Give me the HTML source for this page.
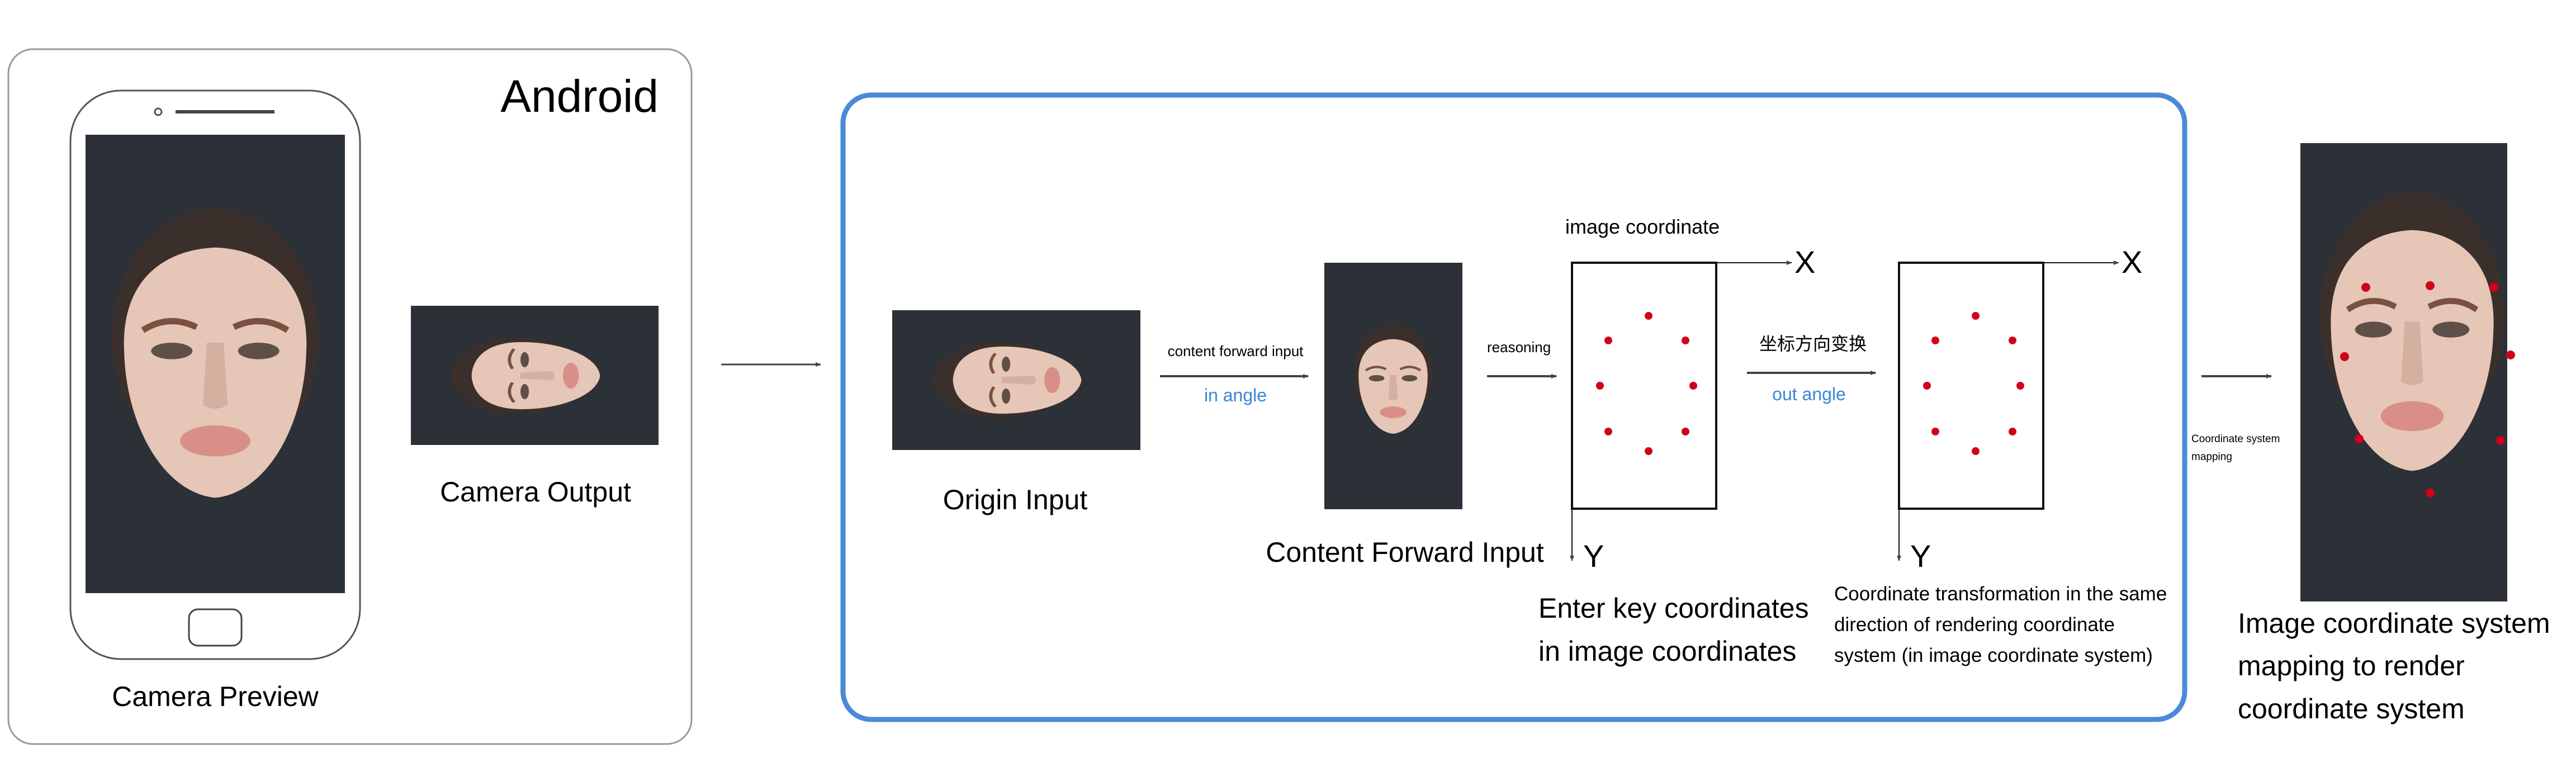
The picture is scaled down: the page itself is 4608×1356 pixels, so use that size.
<!DOCTYPE html>
<html><head><meta charset="utf-8"><style>
html,body{margin:0;padding:0;background:#fff;width:4608px;height:1356px;overflow:hidden}
text{font-family:"Liberation Sans","Noto Sans CJK SC",sans-serif;fill:#000}
</style></head><body>
<svg width="4608" height="1356" viewBox="0 0 4608 1356" xmlns="http://www.w3.org/2000/svg">
<defs>
<marker id="ar" markerWidth="10" markerHeight="8" refX="9" refY="4" orient="auto" markerUnits="userSpaceOnUse">
<path d="M0,0 L10,4 L0,8 Z" fill="#444"/></marker>
<g id="face">
<ellipse cx="0" cy="-25" rx="100" ry="125" fill="#3b2f2c"/>
<path d="M-88,-10 C-92,-80 -50,-110 0,-112 C50,-110 92,-80 88,-10 C86,60 50,125 0,130 C-50,125 -86,60 -88,-10 Z" fill="#e6c6b6"/>
<path d="M-70,-32 Q-45,-48 -18,-35" stroke="#7a5040" stroke-width="6" fill="none"/>
<path d="M70,-32 Q45,-48 18,-35" stroke="#7a5040" stroke-width="6" fill="none"/>
<ellipse cx="-42" cy="-12" rx="20" ry="8" fill="#5e5048"/>
<ellipse cx="42" cy="-12" rx="20" ry="8" fill="#5e5048"/>
<path d="M-8,-20 L-12,40 Q0,48 12,40 L8,-20" fill="#d4b0a0"/>
<ellipse cx="0" cy="75" rx="34" ry="15" fill="#d98f88"/>
</g>
</defs>

<rect x="15" y="88" width="1222" height="1243" rx="44" fill="none" stroke="#999" stroke-width="3"/>
<text x="1178" y="200" font-size="82" text-anchor="end">Android</text>
<rect x="126" y="162" width="518" height="1017" rx="90" fill="#fff" stroke="#555" stroke-width="3"/>
<circle cx="283" cy="200" r="6" fill="none" stroke="#555" stroke-width="3"/>
<line x1="314" y1="200" x2="491" y2="200" stroke="#444" stroke-width="6"/>
<rect x="338" y="1090" width="94" height="65" rx="16" fill="none" stroke="#444" stroke-width="3"/>
<rect x="153" y="241" width="464" height="820" fill="#2c3037"/>
<use href="#face" transform="translate(385,650) scale(1.85)"/>
<text x="385" y="1263" font-size="50" text-anchor="middle">Camera Preview</text>
<svg x="735" y="547" width="443" height="249"><rect width="443" height="249" fill="#2c3037"/>
<use href="#face" transform="translate(215,125) rotate(-90) scale(0.68,0.95)"/></svg>
<text x="958" y="897" font-size="50" text-anchor="middle">Camera Output</text>
<line x1="1290" y1="652" x2="1468" y2="652" stroke="#444" stroke-width="3" marker-end="url(#ar)"/>

<rect x="1508" y="170" width="2400" height="1117" rx="50" fill="none" stroke="#4a8ad8" stroke-width="9"/>
<svg x="1596" y="555" width="444" height="250"><rect width="444" height="250" fill="#2c3037"/>
<use href="#face" transform="translate(215,125) rotate(-90) scale(0.68,0.95)"/></svg>
<text x="1816" y="911" font-size="50" text-anchor="middle">Origin Input</text>
<line x1="2075" y1="673" x2="2340" y2="673" stroke="#444" stroke-width="4" marker-end="url(#ar)"/>
<text x="2210" y="637" font-size="26" text-anchor="middle">content forward input</text>
<text x="2210" y="718" font-size="32" text-anchor="middle" style="fill:#3b86d8">in angle</text>
<svg x="2369" y="470" width="247" height="441"><rect width="247" height="441" fill="#2c3037"/>
<use href="#face" transform="translate(123,215) scale(0.7)"/></svg>
<text x="2513" y="1005" font-size="50" text-anchor="middle">Content Forward Input</text>
<line x1="2660" y1="673" x2="2784" y2="673" stroke="#444" stroke-width="4" marker-end="url(#ar)"/>
<text x="2660" y="630" font-size="26">reasoning</text>

<text x="2800" y="418" font-size="36">image coordinate</text>
<rect x="2812" y="470" width="258" height="440" fill="none" stroke="#111" stroke-width="4"/>
<line x1="3070" y1="470" x2="3205" y2="470" stroke="#111" stroke-width="2" marker-end="url(#ar)"/>
<line x1="2812" y1="910" x2="2812" y2="1003" stroke="#111" stroke-width="2" marker-end="url(#ar)"/>
<text x="3210" y="488" font-size="56">X</text>
<text x="2832" y="1014" font-size="56">Y</text>
<g fill="#d0021b">
<circle cx="2949" cy="565" r="7"/><circle cx="2877" cy="609" r="7"/><circle cx="3015" cy="609" r="7"/>
<circle cx="2862" cy="690" r="7"/><circle cx="3029" cy="690" r="7"/><circle cx="2877" cy="772" r="7"/>
<circle cx="3015" cy="772" r="7"/><circle cx="2949" cy="807" r="7"/>
</g>
<text x="2752" y="1105" font-size="50">Enter key coordinates</text>
<text x="2752" y="1182" font-size="50">in image coordinates</text>

<line x1="3125" y1="667" x2="3355" y2="667" stroke="#444" stroke-width="4" marker-end="url(#ar)"/>
<text x="3243" y="626" font-size="32" text-anchor="middle">坐标方向变换</text>
<text x="3236" y="716" font-size="32" text-anchor="middle" style="fill:#3b86d8">out angle</text>

<rect x="3397" y="470" width="258" height="440" fill="none" stroke="#111" stroke-width="4"/>
<line x1="3655" y1="470" x2="3790" y2="470" stroke="#111" stroke-width="2" marker-end="url(#ar)"/>
<line x1="3397" y1="910" x2="3397" y2="1003" stroke="#111" stroke-width="2" marker-end="url(#ar)"/>
<text x="3795" y="488" font-size="56">X</text>
<text x="3417" y="1014" font-size="56">Y</text>
<g fill="#d0021b">
<circle cx="3534" cy="565" r="7"/><circle cx="3462" cy="609" r="7"/><circle cx="3600" cy="609" r="7"/>
<circle cx="3447" cy="690" r="7"/><circle cx="3614" cy="690" r="7"/><circle cx="3462" cy="772" r="7"/>
<circle cx="3600" cy="772" r="7"/><circle cx="3534" cy="807" r="7"/>
</g>
<text font-size="35"><tspan x="3281" y="1074">Coordinate transformation in the same</tspan><tspan x="3281" y="1129">direction of rendering coordinate</tspan><tspan x="3281" y="1184">system (in image coordinate system)</tspan></text>

<line x1="3938" y1="673" x2="4063" y2="673" stroke="#444" stroke-width="4" marker-end="url(#ar)"/>
<text font-size="19"><tspan x="3920" y="791">Coordinate system</tspan><tspan x="3920" y="823">mapping</tspan></text>
<svg x="4115" y="256" width="370" height="820"><rect width="370" height="820" fill="#2c3037"/>
<use href="#face" transform="translate(200,355) scale(1.65,1.78)"/></svg>
<g fill="#d0021b">
<circle cx="4347" cy="511" r="8"/><circle cx="4232" cy="514" r="8"/><circle cx="4461" cy="514" r="8"/>
<circle cx="4194" cy="638" r="8"/><circle cx="4491" cy="635" r="8"/><circle cx="4220" cy="785" r="8"/>
<circle cx="4473" cy="788" r="8"/><circle cx="4347" cy="882" r="8"/>
</g>
<text font-size="50"><tspan x="4003" y="1132">Image coordinate system</tspan><tspan x="4003" y="1208">mapping to render</tspan><tspan x="4003" y="1285">coordinate system</tspan></text>
</svg>
</body></html>
